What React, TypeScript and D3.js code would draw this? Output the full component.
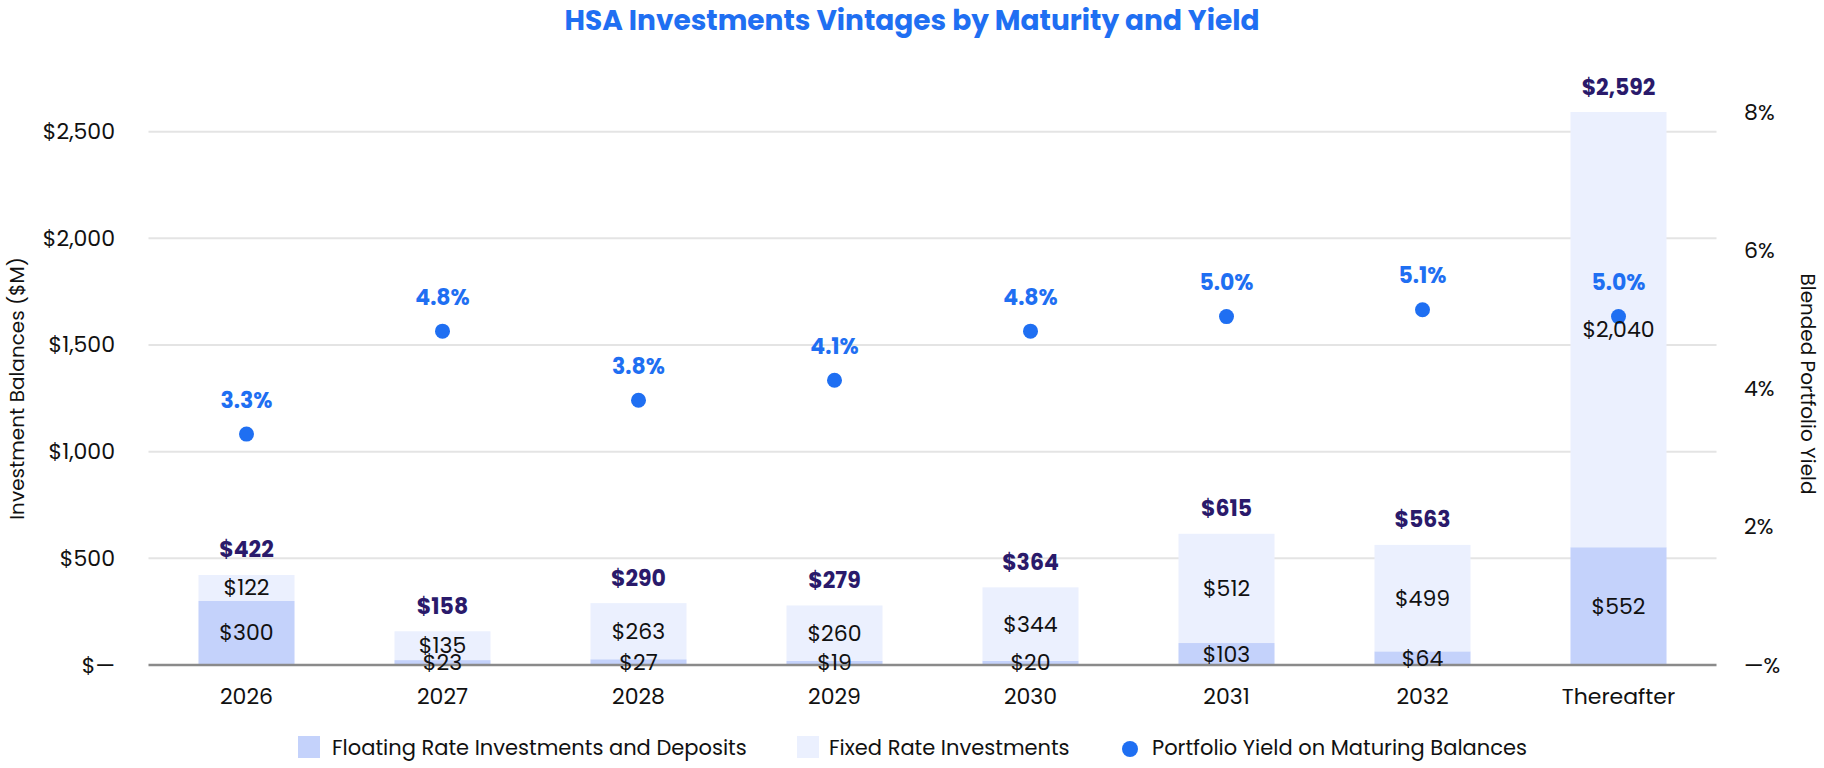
import React from 'react';
import * as d3 from 'd3';

const categories = ['2026', '2027', '2028', '2029', '2030', '2031', '2032', 'Thereafter'];
const floatingRate = [300, 23, 27, 19, 20, 103, 64, 552];
const fixedRate = [122, 135, 263, 260, 344, 512, 499, 2040];
const portfolioYield = [3.34, 4.83, 3.83, 4.12, 4.83, 5.04, 5.14, 5.04];
const balanceTicks = [0, 500, 1000, 1500, 2000, 2500];
const yieldTicks = [0, 2, 4, 6, 8];

const WIDTH = 1824;
const HEIGHT = 768;
const FONT = "Poppins, Inter, 'Open Sans', sans-serif";
const FLOAT_COLOR = '#c4d2fb';
const FIXED_COLOR = '#ebf0fe';
const BLUE = '#1f6ff2';
const NAVY = '#2a1a6b';

const fmtMoney = (v: number) => (v === 0 ? '$—' : '$' + d3.format(',')(v));
const fmtPct = (v: number) => (v === 0 ? '—%' : `${v}%`);

export default function App() {
  const rows = categories.map((c, i) => ({
    category: c,
    floating: floatingRate[i],
    fixed: fixedRate[i],
    total: floatingRate[i] + fixedRate[i],
    yield: portfolioYield[i],
  }));

  const x = d3.scaleBand()
    .domain(categories)
    .range([148.5, 1716.5])
    .paddingInner(0.51)
    .paddingOuter(0.255);

  const yLeft = d3.scaleLinear()
    .domain([0, d3.max(rows, d => d.total) as number])
    .range([665, 112]);

  const yRight = d3.scaleLinear().domain([0, 8]).range([665, 112]);

  const stack = d3.stack<any>().keys(['floating', 'fixed']);
  const series = stack(rows);
  const colors: Record<string, string> = { floating: FLOAT_COLOR, fixed: FIXED_COLOR };

  const [x0, x1] = x.range();

  return (
    <div style={{ position: 'absolute', left: 0, top: 0 }}>
      <svg width={WIDTH} height={HEIGHT} style={{ display: 'block', fontFamily: FONT }}>
        <rect width={WIDTH} height={HEIGHT} fill="#fff" />

        {/* title */}
        <text x={WIDTH / 2} y={20} textAnchor="middle" dominantBaseline="central"
          fontSize={28} fontWeight={700} fill={BLUE}>
          HSA Investments Vintages by Maturity and Yield
        </text>

        {/* gridlines */}
        {balanceTicks.filter(t => t > 0).map(t => (
          <line key={t} x1={x0} x2={x1} y1={yLeft(t)} y2={yLeft(t)} stroke="#e4e4e4" strokeWidth={2} />
        ))}

        {/* stacked bars */}
        {series.map(s => (
          <g key={s.key} fill={colors[s.key]}>
            {s.map((d, i) => (
              <rect key={i}
                x={x(categories[i])}
                width={x.bandwidth()}
                y={yLeft(d[1])}
                height={yLeft(d[0]) - yLeft(d[1])} />
            ))}
          </g>
        ))}

        {/* zero axis */}
        <line x1={x0} x2={x1} y1={yLeft(0)} y2={yLeft(0)} stroke="#8a8a8a" strokeWidth={2.5} />

        {/* left axis */}
        {balanceTicks.map(t => (
          <text key={t} x={115} y={yLeft(t)} textAnchor="end" dominantBaseline="central"
            fontSize={22} fill="#111">{fmtMoney(t)}</text>
        ))}
        <text transform={`translate(17,${(yLeft(0) + yLeft(2592)) / 2}) rotate(-90)`}
          textAnchor="middle" dominantBaseline="central" fontSize={20} fill="#111">
          Investment Balances ($M)
        </text>

        {/* right axis */}
        {yieldTicks.map(t => (
          <text key={t} x={1744} y={yRight(t)} textAnchor="start" dominantBaseline="central"
            fontSize={22} fill="#111">{fmtPct(t)}</text>
        ))}
        <text transform={`translate(1808,384) rotate(90)`}
          textAnchor="middle" dominantBaseline="central" fontSize={20} fill="#111">
          Blended Portfolio Yield
        </text>

        {/* category labels */}
        {categories.map(c => (
          <text key={c} x={(x(c) as number) + x.bandwidth() / 2} y={696} textAnchor="middle"
            dominantBaseline="central" fontSize={22} fill="#111">{c}</text>
        ))}

        {/* yield dots */}
        {rows.map(d => (
          <circle key={d.category} cx={(x(d.category) as number) + x.bandwidth() / 2}
            cy={yRight(d.yield)} r={7.5} fill={BLUE} />
        ))}

        {/* segment labels */}
        {series.map(s => (
          <g key={s.key}>
            {s.map((d, i) => (
              <text key={i} x={(x(categories[i]) as number) + x.bandwidth() / 2}
                y={yLeft((d[0] + d[1]) / 2)} textAnchor="middle" dominantBaseline="central"
                fontSize={22} fill="#111">{fmtMoney(d[1] - d[0])}</text>
            ))}
          </g>
        ))}

        {/* totals */}
        {rows.map(d => (
          <text key={d.category} x={(x(d.category) as number) + x.bandwidth() / 2}
            y={yLeft(d.total) - 25} textAnchor="middle" dominantBaseline="central"
            fontSize={22} fontWeight={700} fill={NAVY}>{fmtMoney(d.total)}</text>
        ))}

        {/* yield labels */}
        {rows.map(d => (
          <text key={d.category} x={(x(d.category) as number) + x.bandwidth() / 2}
            y={yRight(d.yield) - 34} textAnchor="middle" dominantBaseline="central"
            fontSize={22} fontWeight={700} fill={BLUE}>{d.yield.toFixed(1)}%</text>
        ))}

        {/* legend */}
        <g fontSize={21} fill="#111">
          <rect x={298} y={736} width={22} height={22} fill={FLOAT_COLOR} />
          <text x={332} y={747} dominantBaseline="central">Floating Rate Investments and Deposits</text>
          <rect x={797} y={736} width={22} height={22} fill={FIXED_COLOR} />
          <text x={829} y={747} dominantBaseline="central">Fixed Rate Investments</text>
          <circle cx={1130} cy={749} r={8} fill={BLUE} />
          <text x={1152} y={747} dominantBaseline="central">Portfolio Yield on Maturing Balances</text>
        </g>
      </svg>
    </div>
  );
}
